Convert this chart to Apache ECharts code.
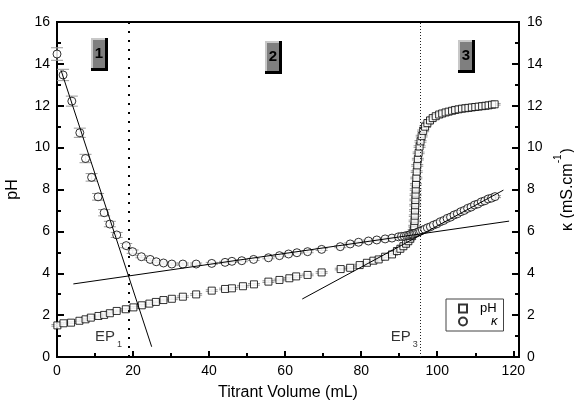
<!DOCTYPE html>
<html>
<head>
<meta charset="utf-8">
<script src="https://cdn.jsdelivr.net/npm/echarts@6/dist/echarts.min.js"></script>
<style>
  html, body { margin: 0; padding: 0; background: #fff; }
  #chart { width: 574px; height: 406px; }
</style>
</head>
<body>
<div id="chart"></div>
<script>
// pH 数据（方块）
const phX = [0.1, 1.7, 3.7, 5.9, 7.5, 8.9, 10.9, 12.4, 13.9, 15.7, 18.1, 20.1, 22.3, 24.3, 26.0, 28.0, 30.2, 33.1, 36.6,
  40.7, 44.2, 46.0, 48.9, 51.8, 55.6, 58.5, 61.1, 62.9, 65.9, 69.6, 74.6, 77.1, 79.6, 81.5, 83.2, 84.6, 86.3, 88.1,
  89.4, 90.3, 91.1, 91.8, 92.4, 92.9, 93.3, 93.6, 93.8, 93.95, 94.05, 94.1, 94.15, 94.2, 94.25, 94.3, 94.35, 94.4,
  94.5, 94.6, 94.75, 94.9, 95.1, 95.35, 95.6, 95.9, 96.3, 96.8, 97.4, 98.1, 98.8, 99.6, 100.5, 101.3, 102.2, 103.0,
  103.9, 104.7, 105.6, 106.5, 107.4, 108.2, 109.1, 110.0, 110.9, 111.8, 112.7, 113.5, 114.4, 115.1];
const phY = [1.51, 1.61, 1.64, 1.73, 1.80, 1.88, 1.96, 2.01, 2.09, 2.20, 2.28, 2.37, 2.47, 2.55, 2.63, 2.72, 2.78, 2.88, 2.99,
  3.17, 3.25, 3.28, 3.38, 3.47, 3.60, 3.68, 3.76, 3.85, 3.92, 4.04, 4.20, 4.26, 4.39, 4.50, 4.60, 4.66, 4.79, 4.90,
  5.06, 5.17, 5.29, 5.41, 5.53, 5.65, 5.77, 5.90, 6.05, 6.25, 6.50, 6.75, 7.00, 7.25, 7.50, 7.75, 8.00, 8.25,
  8.55, 8.85, 9.15, 9.45, 9.75, 10.05, 10.30, 10.55, 10.80, 11.00, 11.17, 11.30, 11.41, 11.50, 11.58, 11.63, 11.68, 11.72,
  11.76, 11.80, 11.83, 11.86, 11.88, 11.90, 11.92, 11.94, 11.96, 11.98, 12.00, 12.02, 12.05, 12.07];

// 电导率 κ 数据（圆圈）
const kappaX = [0, 1.6, 3.9, 6.0, 7.5, 9.1, 10.8, 12.4, 13.9, 15.7, 18.2, 19.9, 22.2, 24.5, 26.1, 28.0, 30.2, 33.1, 36.6,
  40.7, 44.2, 46.0, 48.6, 51.7, 55.6, 58.5, 60.9, 63.1, 65.9, 69.6, 74.5, 77.1, 79.3, 81.9, 84.1, 86.3, 88.1, 89.8,
  90.6, 91.3, 91.9, 92.4, 92.8, 93.2, 93.6, 94.0, 94.4, 94.8, 95.2, 95.6, 96.1, 96.7, 97.4, 98.2, 99.0, 99.9, 100.8,
  101.7, 102.6, 103.5, 104.4, 105.3, 106.2, 107.1, 108.0, 108.9, 109.8, 110.7, 111.6, 112.5, 113.4, 114.3, 115.2];
const kappaY = [14.47, 13.47, 12.22, 10.71, 9.48, 8.58, 7.65, 6.89, 6.35, 5.83, 5.32, 5.03, 4.79, 4.66, 4.55, 4.49, 4.44, 4.44, 4.44,
  4.47, 4.52, 4.57, 4.60, 4.66, 4.74, 4.84, 4.92, 4.98, 5.03, 5.14, 5.27, 5.40, 5.48, 5.54, 5.59, 5.64, 5.68, 5.74,
  5.76, 5.77, 5.80, 5.81, 5.84, 5.86, 5.87, 5.90, 5.93, 5.95, 5.99, 6.01, 6.06, 6.10, 6.17, 6.22, 6.30, 6.36, 6.46,
  6.52, 6.62, 6.68, 6.78, 6.84, 6.94, 7.00, 7.10, 7.16, 7.26, 7.31, 7.41, 7.46, 7.55, 7.59, 7.66];
// 误差（前几个点较大）
const kappaErr = [0.3, 0.27, 0.24, 0.22, 0.2, 0.18, 0.16, 0.15, 0.13, 0.12, 0.1, 0.08];
const phErr = 0.04;

// 拟合直线端点
const fit1 = [[1.05, 13.7], [24.9, 0.49]];
const fit2 = [[4.3, 3.49], [118.9, 6.49]];
const fit3 = [[64.5, 2.77], [117.4, 7.97]];

// 终点位置
const ep1 = 19.0;
const ep3 = 95.6;

// 区域标签 1/2/3
const boxLabels = ['1', '2', '3'];
const boxPos = [[11.3, 14.44], [57.05, 14.3], [107.7, 14.37]];

// EP 文本
const epNames = ['1', '3'];
const epPos = [[10.0, 0.85], [87.8, 0.85]];

const FONT = '"Liberation Sans", Arial, sans-serif';

const phData = phX.map((x, i) => [x, phY[i]]);
const kappaData = kappaX.map((x, i) => [x, kappaY[i]]);
const phErrData = phX.map((x, i) => [x, phY[i], phErr]);
const kappaErrData = kappaX.map((x, i) => [x, kappaY[i], kappaErr[i] ?? 0.05]);

// 误差棒
const renderErr = (params, api) => {
  const x = api.value(0), y = api.value(1), e = api.value(2);
  const lo = api.coord([x, y - e]);
  const hi = api.coord([x, y + e]);
  const hw = 6;
  const st = { stroke: '#9a9a9a', lineWidth: 1 };
  return {
    type: 'group',
    children: [
      { type: 'line', shape: { x1: lo[0], y1: lo[1], x2: hi[0], y2: hi[1] }, style: st },
      { type: 'line', shape: { x1: lo[0] - hw, y1: lo[1], x2: lo[0] + hw, y2: lo[1] }, style: st },
      { type: 'line', shape: { x1: hi[0] - hw, y1: hi[1], x2: hi[0] + hw, y2: hi[1] }, style: st }
    ]
  };
};

// 立体方框标签
const renderBox = (params, api) => {
  const p = api.coord([api.value(0), api.value(1)]);
  const w = 17, h = 33;
  const x0 = Math.round(p[0] - w / 2), y0 = Math.round(p[1] - h / 2);
  return {
    type: 'group',
    children: [
      { type: 'rect', shape: { x: x0, y: y0, width: w, height: h }, style: { fill: '#000' } },
      { type: 'rect', shape: { x: x0, y: y0, width: w - 3, height: h - 3 }, style: { fill: '#c8c8c8' } },
      { type: 'rect', shape: { x: x0 + 2, y: y0 + 2, width: w - 5, height: h - 5 }, style: { fill: '#7f7f7f' } },
      {
        type: 'text',
        style: {
          text: boxLabels[params.dataIndex], x: x0 + (w - 3) / 2 + 1, y: y0 + (h - 3) / 2 + 1,
          align: 'center', verticalAlign: 'middle',
          fontSize: 15, fontWeight: 'bold', fontFamily: FONT, fill: '#000'
        }
      }
    ]
  };
};

const axisCommon = {
  min: 0,
  max: 16,
  interval: 2,
  axisLine: { show: true, lineStyle: { color: '#000', width: 2 } },
  axisTick: { show: true, inside: true, length: 7, lineStyle: { color: '#000', width: 2 } },
  minorTick: { show: true, splitNumber: 2, length: 4, lineStyle: { color: '#000', width: 2 } },
  splitLine: { show: false },
  axisLabel: { color: '#000', fontSize: 14, fontFamily: FONT, margin: 7 },
  nameLocation: 'middle',
  nameRotate: 90,
  nameTextStyle: { color: '#000', fontSize: 16, fontFamily: FONT }
};

const chart = echarts.init(document.getElementById('chart'), null, { renderer: 'canvas' });

chart.setOption({
  animation: false,
  backgroundColor: '#fff',
  grid: {
    left: 57, right: 55, top: 22, bottom: 49,
    containLabel: false,
    outerBoundsMode: 'none',
    show: true, borderColor: '#000', borderWidth: 2
  },
  legend: {
    left: 446, top: 299,
    orient: 'vertical',
    data: ['pH', 'κ'],
    borderColor: '#444', borderWidth: 1,
    padding: [3, 6, 3, 12],
    itemGap: 0,
    itemWidth: 8, itemHeight: 8,
    textStyle: {
      color: '#000', fontSize: 13, fontFamily: FONT, padding: [0, 0, 0, 8],
      rich: { i: { fontStyle: 'italic', fontSize: 13, fontFamily: FONT, padding: [0, 0, 0, 11] } }
    },
    formatter: (name) => name === 'κ' ? '{i|κ}' : name
  },
  xAxis: {
    type: 'value',
    min: 0, max: 121.5, interval: 20,
    name: 'Titrant Volume (mL)',
    nameLocation: 'middle',
    nameGap: 28,
    nameTextStyle: { color: '#000', fontSize: 16, fontFamily: FONT },
    axisLine: { show: true, onZero: false, lineStyle: { color: '#000', width: 2 } },
    axisTick: { show: true, inside: true, length: 6, lineStyle: { color: '#000', width: 2 } },
    minorTick: { show: true, splitNumber: 2, length: 4, lineStyle: { color: '#000', width: 2 } },
    splitLine: { show: false },
    axisLabel: {
      color: '#000', fontSize: 14, fontFamily: FONT, margin: 7,
      formatter: (v) => (v % 20 === 0 ? String(v) : '')
    }
  },
  yAxis: [
    Object.assign({}, axisCommon, {
      type: 'value', position: 'left', name: 'pH', nameGap: 36
    }),
    Object.assign({}, axisCommon, {
      type: 'value', position: 'right',
      name: '{a|κ (mS.cm}{s|-1}{a|)}',
      nameGap: 34,
      nameTextStyle: {
        color: '#000', fontFamily: FONT,
        rich: {
          a: { fontSize: 16, fontFamily: FONT, lineHeight: 22, verticalAlign: 'bottom' },
          s: { fontSize: 10, fontFamily: FONT, lineHeight: 22, verticalAlign: 'top', padding: [0, 1, 0, 0] }
        }
      },
      axisLabel: { color: '#000', fontSize: 14, fontFamily: FONT, margin: 8 }
    })
  ],
  series: [
    {
      type: 'custom', name: 'phErr', renderItem: renderErr, data: phErrData, z: 1, silent: true
    },
    {
      type: 'custom', name: 'kErr', yAxisIndex: 1, renderItem: renderErr, data: kappaErrData, z: 1, silent: true
    },
    {
      name: 'pH', type: 'scatter', data: phData,
      symbol: 'rect', symbolSize: 7,
      itemStyle: { color: '#fff', borderColor: '#000', borderWidth: 1 },
      z: 3
    },
    {
      name: 'κ', type: 'scatter', yAxisIndex: 1, data: kappaData,
      symbol: 'circle', symbolSize: 8,
      itemStyle: { color: '#fff', borderColor: '#000', borderWidth: 1 },
      z: 3
    },
    {
      type: 'line', name: 'fit1', yAxisIndex: 1, data: fit1, symbol: 'none',
      lineStyle: { color: '#000', width: 1 }, z: 4, silent: true
    },
    {
      type: 'line', name: 'fit2', yAxisIndex: 1, data: fit2, symbol: 'none',
      lineStyle: { color: '#000', width: 1 }, z: 4, silent: true
    },
    {
      type: 'line', name: 'fit3', yAxisIndex: 1, data: fit3, symbol: 'none',
      lineStyle: { color: '#000', width: 1 }, z: 4, silent: true
    },
    {
      type: 'line', name: 'ep', data: [], silent: true,
      markLine: {
        symbol: 'none', silent: true, label: { show: false },
        data: [
          { xAxis: ep1, lineStyle: { color: '#000', width: 2, type: [2, 7] } },
          { xAxis: ep3, lineStyle: { color: '#222', width: 1, type: [1, 2] } }
        ]
      }
    },
    {
      type: 'custom', name: 'boxes', renderItem: renderBox, data: boxPos, z: 5, silent: true
    },
    {
      type: 'scatter', name: 'epText', data: epPos, symbolSize: 0, silent: true, z: 5,
      label: {
        show: true, position: 'right', distance: 0,
        formatter: (p) => '{e|EP}{n|' + epNames[p.dataIndex] + '}',
        rich: {
          e: { fontSize: 15, fontFamily: FONT, color: '#000', lineHeight: 20, verticalAlign: 'top' },
          n: { fontSize: 9, fontFamily: FONT, color: '#000', lineHeight: 20, verticalAlign: 'bottom', padding: [0, 0, 0, 2] }
        }
      }
    }
  ]
});
</script>
</body>
</html>
